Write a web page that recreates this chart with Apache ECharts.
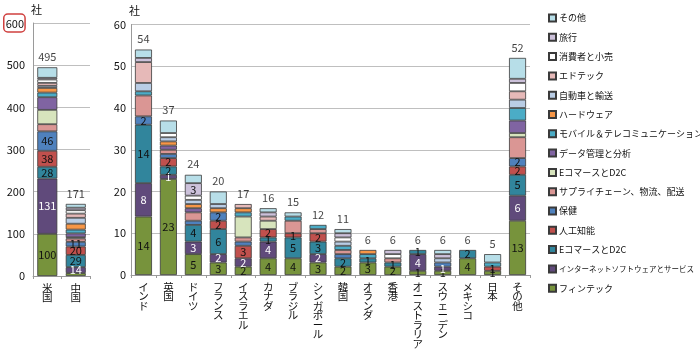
<!DOCTYPE html>
<html>
<head>
<meta charset="utf-8">
<script src="https://cdn.jsdelivr.net/npm/echarts@6/dist/echarts.min.js"></script>
<style>
  html, body { margin: 0; padding: 0; background: #fff; }
  #chart { width: 700px; height: 349px; }
</style>
</head>
<body>
<div id="chart"></div>
<script>
// 国・地域別ユニコーン企業数（業種別の積み上げ）
const bigCountries = ['米国', '中国'];
const countries = ['インド', '英国', 'ドイツ', 'フランス', 'イスラエル', 'カナダ', 'ブラジル', 'シンガポール',
  '韓国', 'オランダ', '香港', 'オーストラリア', 'スウェーデン', 'メキシコ', '日本', 'その他'];

// 業種名（下から積み上げる順）
const sectorNames = ['フィンテック', 'インターネットソフトウェアとサービス', 'EコマースとD2C', '人工知能', '保健',
  'サプライチェーン、物流、配送', 'EコマースとD2C ', 'データ管理と分析', 'モバイル＆テレコミュニケーション',
  'ハードウェア', '自動車と輸送', 'エドテック', '消費者と小売', '旅行', 'その他'];
const sectorColors = ['#77933C', '#604A7B', '#31859C', '#C0504D', '#4F81BD', '#DA9694', '#D7E4BD', '#8064A2',
  '#4BACC6', '#F79646', '#B9CDE5', '#E6B9B8', '#FFFFFF', '#CCC1DA', '#B7DEE8'];

// 米国・中国（左の図）
const bigFintech   = [100, 7];
const bigInternet  = [131, 14];
const bigEcommerce = [28, 29];
const bigAI        = [38, 20];
const bigHealth    = [46, 11];
const bigSupply    = [17, 8];
const bigEcomD2C   = [34, 3];
const bigData      = [30, 9];
const bigMobile    = [11, 9];
const bigHardware  = [11, 14];
const bigAuto      = [5, 14];
const bigEdtech    = [7, 10];
const bigConsumer  = [8, 8];
const bigTravel    = [4, 6];
const bigOther     = [25, 9];

// その他の国・地域（右の図）
const fintech   = [14, 23, 5, 3, 2, 4, 4, 3, 2, 3, 2, 1, 1, 4, 1, 13];
const internet  = [8, 1, 3, 2, 2, 4, 0, 2, 0, 0, 0, 4, 1, 0, 0, 6];
const ecommerce = [14, 2, 4, 6, 0, 1, 5, 3, 2, 1, 1, 1, 0, 2, 0, 5];
const ai        = [0, 2, 0, 2, 3, 2, 1, 2, 0, 0, 0, 0, 0, 0, 1, 2];
const health    = [2, 1, 1, 2, 1, 0, 0, 0, 1, 0, 0, 0, 1, 0, 0, 2];
const supply    = [5, 1, 2, 0, 1, 0, 3, 1, 1, 0, 1, 0, 0, 0, 0, 5];
const ecomD2C   = [0, 0, 0, 0, 5, 2, 0, 0, 0, 0, 0, 0, 0, 0, 0, 1];
const dataMgmt  = [0, 1, 1, 0, 0, 0, 0, 0, 0, 0, 0, 0, 0, 0, 0, 3];
const mobile    = [1, 0, 0, 0, 1, 0, 1, 1, 1, 1, 0, 0, 0, 0, 1, 3];
const hardware  = [0, 1, 1, 1, 1, 0, 0, 0, 0, 1, 0, 0, 0, 0, 0, 0];
const auto      = [2, 1, 1, 1, 0, 0, 0, 0, 1, 0, 0, 0, 1, 0, 0, 2];
const edtech    = [5, 0, 0, 0, 1, 1, 0, 0, 0, 0, 0, 0, 0, 0, 0, 2];
const consumer  = [0, 1, 1, 0, 0, 0, 0, 0, 1, 0, 1, 0, 0, 0, 0, 2];
const travel    = [1, 0, 3, 0, 0, 1, 0, 0, 1, 0, 1, 0, 1, 0, 0, 1];
const other     = [2, 3, 2, 3, 0, 1, 1, 0, 1, 0, 0, 0, 1, 0, 2, 5];

const leftTicks = [0, 100, 200, 300, 400, 500, 600];
const rightTicks = [0, 10, 20, 30, 40, 50, 60];

const bigSeries = [bigFintech, bigInternet, bigEcommerce, bigAI, bigHealth, bigSupply, bigEcomD2C, bigData,
  bigMobile, bigHardware, bigAuto, bigEdtech, bigConsumer, bigTravel, bigOther];
const smallSeries = [fintech, internet, ecommerce, ai, health, supply, ecomD2C, dataMgmt,
  mobile, hardware, auto, edtech, consumer, travel, other];

const FONT = '"Noto Sans CJK JP", "Noto Sans", sans-serif';

function totals(list, n) {
  const t = new Array(n).fill(0);
  list.forEach(arr => arr.forEach((v, i) => { t[i] += v; }));
  return t;
}
const bigTotals = totals(bigSeries, bigCountries.length);
const smallTotals = totals(smallSeries, countries.length);

const vertical = s => s.split('').join('\n');

// セグメント内の数値ラベルを表示するかどうか
function showLeft(si, v) { return si <= 4 && v >= 10; }
function showRight(si, v) {
  if (si <= 3) return v > 0;
  if (si === 4) return v >= 2;
  if (si === 13) return v >= 3;
  return false;
}

function barSeries(si, values, axisIdx, width, rule) {
  return {
    name: sectorNames[si],
    type: 'bar',
    stack: 'g' + axisIdx,
    xAxisIndex: axisIdx,
    yAxisIndex: axisIdx,
    barWidth: width,
    itemStyle: { color: sectorColors[si], borderColor: '#3a3a3a', borderWidth: 0.8 },
    label: {
      show: true,
      position: 'inside',
      fontFamily: FONT,
      fontSize: 11,
      color: si === 1 ? '#ffffff' : '#111111',
      formatter: p => (rule(si, p.value) ? String(p.value) : '')
    },
    emphasis: { disabled: true },
    data: values.map(v => (v > 0 ? v : '-'))
  };
}

function totalSeries(values, axisIdx) {
  return {
    type: 'scatter',
    xAxisIndex: axisIdx,
    yAxisIndex: axisIdx,
    symbolSize: 0,
    silent: true,
    label: { show: true, position: 'top', distance: 5, fontFamily: FONT, fontSize: 11, color: '#111', formatter: p => String(p.value) },
    data: values
  };
}

const series = [];
bigSeries.forEach((vals, si) => series.push(barSeries(si, vals, 0, 20, showLeft)));
smallSeries.forEach((vals, si) => series.push(barSeries(si, vals, 1, 17, showRight)));
series.push(totalSeries(bigTotals, 0));
series.push(totalSeries(smallTotals, 1));

const gridLine = { show: true, lineStyle: { color: '#BFBFBF', width: 1 } };
const axisLineY = { show: true, lineStyle: { color: '#9a9a9a', width: 1 } };

const xCommon = {
  type: 'category',
  axisLine: { show: true, lineStyle: { color: '#9a9a9a' } },
  axisTick: { show: true, length: 3, alignWithLabel: false, lineStyle: { color: '#9a9a9a' } },
  axisLabel: { fontFamily: FONT, fontSize: 10.5, lineHeight: 9.5, color: '#111', margin: 7, interval: 0, verticalAlign: 'top', formatter: vertical }
};

// 凡例（上から「その他」→「フィンテック」）。長い項目名は少し小さく表示する
const legendItems = sectorNames.slice().reverse().map(name => (
  name.length > 16 ? { name: name, textStyle: { fontSize: 7.5 } } : { name: name }
));

const option = {
  animation: false,
  backgroundColor: '#ffffff',
  grid: [
    { left: 30, top: 23, width: 60, height: 253 },
    { left: 131, top: 24.5, width: 399, height: 251.5 }
  ],
  xAxis: [
    Object.assign({ gridIndex: 0, data: bigCountries }, xCommon),
    Object.assign({ gridIndex: 1, data: countries }, xCommon)
  ],
  yAxis: [
    {
      gridIndex: 0, type: 'value', min: leftTicks[0], max: leftTicks[leftTicks.length - 1], interval: 100,
      name: '社', nameLocation: 'end', nameGap: 8,
      nameTextStyle: { fontFamily: FONT, fontSize: 11, color: '#111', align: 'left', padding: [0, 0, 0, -2] },
      axisLine: axisLineY, axisTick: { show: false }, splitLine: gridLine,
      axisLabel: {
        fontFamily: FONT, fontSize: 11, color: '#111', margin: 8,
        formatter: v => (v === leftTicks[leftTicks.length - 1] ? '{hl|' + v + '}' : String(v)),
        rich: { hl: { fontFamily: FONT, fontSize: 11, color: '#111', borderColor: '#D0403F', borderWidth: 1.5, borderRadius: 4, padding: [4, 1, 3, 2] } }
      }
    },
    {
      gridIndex: 1, type: 'value', min: rightTicks[0], max: rightTicks[rightTicks.length - 1], interval: 10,
      name: '社', nameLocation: 'end', nameGap: 8,
      nameTextStyle: { fontFamily: FONT, fontSize: 11, color: '#111', align: 'left', padding: [0, 0, 0, -2] },
      axisLine: axisLineY, axisTick: { show: false }, splitLine: gridLine,
      axisLabel: { fontFamily: FONT, fontSize: 11, color: '#111', margin: 5 }
    }
  ],
  legend: {
    orient: 'vertical',
    left: 543,
    top: 7,
    itemWidth: 7,
    itemHeight: 7,
    itemGap: 7.3,
    icon: 'rect',
    selectedMode: false,
    textStyle: { fontFamily: FONT, fontSize: 9, color: '#111', lineHeight: 12, padding: [0, 0, 0, -2] },
    data: legendItems
  },
  series: series
};

const chart = echarts.init(document.getElementById('chart'), null, { renderer: 'canvas' });
chart.setOption(option);
</script>
</body>
</html>
